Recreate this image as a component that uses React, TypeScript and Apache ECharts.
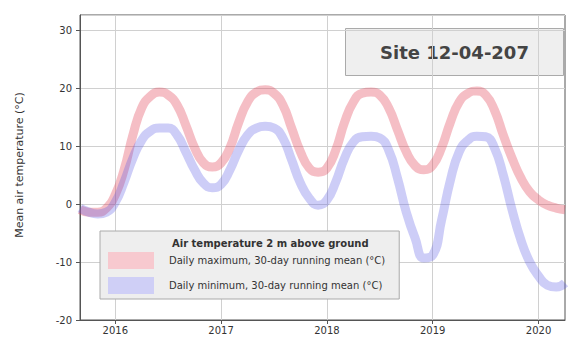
import React, { useEffect, useRef } from "react";
import * as echarts from "echarts";

const months: string[] = [];
for (let y = 2015; y <= 2020; y++) {
  for (let m = 1; m <= 12; m++) {
    const key = `${y}-${String(m).padStart(2, "0")}`;
    if (key >= "2015-09" && key <= "2020-04") months.push(key);
  }
}

const maxTemp = [
  -1.0, -1.4, -1.4, -0.7, 1.6, 5.9, 11.9, 16.6, 18.6, 19.3, 18.8, 17.1,
  13.6, 9.7, 7.1, 6.4, 7.1, 9.7, 14.1, 17.6, 19.3, 19.7, 19.1, 17.1,
  13.1, 9.0, 6.2, 5.5, 6.2, 9.3, 14.1, 17.6, 19.1, 19.3, 18.8, 16.6,
  12.8, 9.0, 6.6, 5.9, 6.7, 9.7, 14.1, 17.6, 19.1, 19.5, 18.8, 16.2,
  11.9, 7.9, 4.5, 2.1, 0.7, -0.2, -0.7, -1.0,
];

const minTemp = [
  -0.7, -1.4, -1.7, -1.4, 0.3, 3.8, 7.9, 11.0, 12.6, 13.1, 13.1, 11.9,
  9.0, 5.9, 3.6, 2.8, 3.4, 5.9, 9.3, 11.9, 13.1, 13.4, 13.1, 11.4,
  7.6, 3.6, 1.0, -0.2, 0.7, 3.8, 7.9, 10.7, 11.6, 11.7, 11.4, 9.3,
  4.5, -1.4, -5.9, -9.3, -8.8, -2.8, 4.1, 9.0, 11.0, 11.7, 11.6, 9.7,
  5.0, -1.0, -6.2, -10.0, -12.4, -14.0, -14.3, -13.6,
];

const seriesNames = [
  "Daily maximum, 30-day running mean (°C)",
  "Daily minimum, 30-day running mean (°C)",
];
const titleText = "Site 12-04-207";
const legendHeader = "Air temperature 2 m above ground";
const yAxisTitle = "Mean air temperature (°C)";

const FONT = "DejaVu Sans";

export default function App() {
  const ref = useRef<HTMLDivElement>(null);
  useEffect(() => {
    if (!ref.current) return;
    const chart = echarts.init(ref.current, undefined, { renderer: "svg" });
    const isJan = (i: number) => months[i].endsWith("-01");
    chart.setOption({
      animation: false,
      backgroundColor: "#ffffff",
      textStyle: { fontFamily: FONT },
      grid: {
        left: 80,
        right: 9,
        top: 15,
        bottom: 18,
        show: true,
        borderColor: "#555",
        borderWidth: 1,
      },
      xAxis: {
        type: "category",
        data: months,
        boundaryGap: false,
        axisLine: { onZero: false, lineStyle: { color: "#555" } },
        axisTick: { interval: (i: number) => isJan(i), length: 4, lineStyle: { color: "#555" } },
        axisLabel: {
          interval: (i: number) => isJan(i),
          formatter: (v: string) => v.slice(0, 4),
          color: "#333",
          fontSize: 10,
          fontFamily: FONT,
          margin: 5,
        },
        splitLine: { show: true, interval: (i: number) => isJan(i), lineStyle: { color: "#d0d0d0" } },
      },
      yAxis: {
        type: "value",
        min: -20,
        max: 32.6,
        interval: 10,
        axisLine: { show: true, lineStyle: { color: "#555" } },
        axisTick: { show: true, length: 4, lineStyle: { color: "#555" } },
        axisLabel: {
          color: "#333",
          fontSize: 10,
          fontFamily: FONT,
          showMaxLabel: false,
          margin: 8,
        },
        splitLine: { show: true, lineStyle: { color: "#d0d0d0" } },
      },
      legend: {
        orient: "vertical",
        left: 100,
        top: 231,
        padding: [21, 14, 5, 8],
        itemGap: 8,
        itemWidth: 46,
        itemHeight: 17,
        backgroundColor: "#eeeeee",
        borderColor: "#aaaaaa",
        borderWidth: 1,
        textStyle: { fontSize: 10, color: "#333", fontFamily: FONT, padding: [0, 0, 0, 10] },
        data: [
          { name: seriesNames[0], icon: "rect", itemStyle: { color: "#f7c9cf" } },
          { name: seriesNames[1], icon: "rect", itemStyle: { color: "#cfcff6" } },
        ],
      },
      graphic: [
        {
          type: "text",
          z: 100,
          left: 172,
          top: 238,
          style: {
            text: legendHeader,
            fontSize: 10,
            fontWeight: "bold",
            fill: "#333",
            fontFamily: FONT,
          },
        },
        {
          type: "group",
          z: 100,
          left: 345,
          top: 28,
          children: [
            {
              type: "rect",
              shape: { x: 0, y: 0, width: 218, height: 47 },
              style: { fill: "#efefef", stroke: "#aaaaaa", lineWidth: 1 },
            },
            {
              type: "text",
              x: 109,
              y: 24,
              style: {
                text: titleText,
                fontSize: 18,
                fontWeight: "bold",
                fill: "#444",
                align: "center",
                verticalAlign: "middle",
                fontFamily: FONT,
              },
            },
          ],
        },
        {
          type: "text",
          z: 100,
          x: 19,
          y: 165,
          rotation: Math.PI / 2,
          style: {
            text: yAxisTitle,
            fontSize: 11,
            fill: "#333",
            align: "center",
            verticalAlign: "middle",
            fontFamily: FONT,
          },
        },
      ],
      series: [
        {
          name: seriesNames[0],
          type: "line",
          data: maxTemp,
          smooth: true,
          showSymbol: false,
          lineStyle: { color: "rgba(226, 70, 90, 0.35)", width: 9 },
          itemStyle: { color: "#f7c9cf" },
        },
        {
          name: seriesNames[1],
          type: "line",
          data: minTemp,
          smooth: true,
          showSymbol: false,
          lineStyle: { color: "rgba(90, 90, 230, 0.3)", width: 9 },
          itemStyle: { color: "#cfcff6" },
        },
      ],
    });
    return () => chart.dispose();
  }, []);
  return (
    <div
      ref={ref}
      style={{ position: "fixed", left: 0, top: 0, width: 574, height: 338 }}
    />
  );
}
